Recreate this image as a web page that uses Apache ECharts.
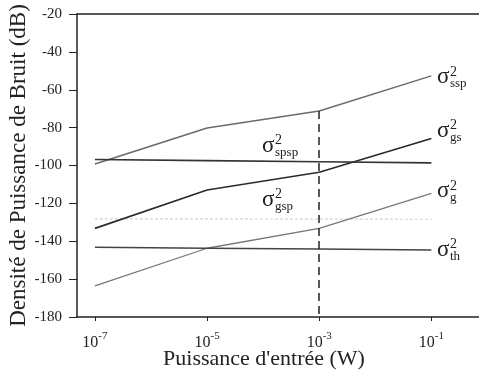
<!DOCTYPE html>
<html>
<head>
<meta charset="utf-8">
<script src="https://cdn.jsdelivr.net/npm/echarts@6/dist/echarts.min.js"></script>
<style>
html,body{margin:0;padding:0;background:#fff;}
#c{width:479px;height:373px;}
</style>
</head>
<body>
<div id="c"></div>
<script>
// exponents of input power (W): 10^x
const xExp = [-7, -5, -3, -1];
const tickExp = [-7, -5, -3, -1];
const yTicks = [-180, -160, -140, -120, -100, -80, -60, -40, -20];
// noise power densities (dB)
const ssp  = [-99.2, -80.2, -71.2, -52.7];
const gs   = [-133.2, -112.9, -103.6, -85.7];
const g    = [-163.6, -143.7, -133.2, -114.7];
const spsp = [-96.8, -97.4, -98.0, -98.6];
const th   = [-143.2, -143.7, -144.1, -144.6];
const faint = [-128.2, -128.2, -128.3, -128.4];
// label subscripts and anchor points (data coordinates: [exponent, dB])
const labelNames = ['ssp', 'gs', 'g', 'th', 'spsp', 'gsp'];
const labelX = [-0.90, -0.90, -0.90, -0.90, -4.02, -4.02];
const labelY = [-51.7, -80.2, -111.9, -143.0, -88.1, -116.6];

const serif = 'Liberation Serif';
const ink = '#222';

function pairs(vals){ return xExp.map((x,i)=>[x, vals[i]]); }

function lineSeries(name, vals, color, width){
  return {
    name, type: 'line', data: pairs(vals), symbol: 'none',
    lineStyle: {color, width}, itemStyle: {color},
    silent: true, animation: false, z: 3
  };
}

// each label: sigma, superscript 2, subscript, all anchored at the same data point
const labelItems = [];
labelNames.forEach((n, i) => {
  const coord = [labelX[i], labelY[i]];
  labelItems.push({coord, label: {formatter: 'σ', fontSize: 23, offset: [0, 2.7]}});
  labelItems.push({coord, label: {formatter: '2', fontSize: 14, offset: [13, -2.2]}});
  labelItems.push({coord, label: {formatter: n, fontSize: 13, offset: [13, 9.6]}});
});

const chart = echarts.init(document.getElementById('c'), null, {renderer: 'canvas'});
chart.setOption({
  animation: false,
  backgroundColor: '#fff',
  grid: {left: 77, right: 0, top: 14, bottom: 56, outerBoundsMode: 'none', containLabel: false},
  xAxis: [{
    type: 'value', min: -7.32, max: -0.15,
    axisLine: {show: true, lineStyle: {color: ink, width: 1.5}},
    axisTick: {show: true, length: 4, lineStyle: {color: ink}, customValues: tickExp},
    splitLine: {show: false},
    axisLabel: {
      customValues: tickExp, margin: 14, color: ink,
      formatter: (v) => '{m|10}{e|' + v + '}',
      rich: {
        m: {fontSize: 16, fontFamily: serif, lineHeight: 20, verticalAlign: 'bottom', color: ink},
        e: {fontSize: 11, fontFamily: serif, lineHeight: 10, verticalAlign: 'top', color: ink}
      }
    },
    name: "Puissance d'entrée (W)", nameLocation: 'middle', nameGap: 31, nameMoveOverlap: false,
    nameTextStyle: {fontFamily: serif, fontSize: 22, color: ink, padding: [0, 28, 0, 0]}
  },{
    type: 'value', position: 'top', min: -7.32, max: -0.15,
    axisLine: {show: true, lineStyle: {color: ink, width: 1.5}},
    axisTick: {show: false}, axisLabel: {show: false}, splitLine: {show: false}
  }],
  yAxis: {
    type: 'value', min: -180, max: -20, interval: 20,
    axisLine: {show: true, lineStyle: {color: ink, width: 1.5}},
    axisTick: {show: true, length: 8, lineStyle: {color: ink}},
    splitLine: {show: false},
    axisLabel: {margin: 15, fontFamily: serif, fontSize: 15, color: ink},
    name: 'Densité de Puissance de Bruit (dB)', nameLocation: 'middle', nameRotate: 90,
    nameGap: 47, nameMoveOverlap: false,
    nameTextStyle: {fontFamily: serif, fontSize: 23, color: ink}
  },
  series: [
    {
      name: 'faint', type: 'line', data: pairs(faint), symbol: 'none',
      lineStyle: {color: '#d4d4d4', width: 1.2, type: [3,2]}, silent: true, z: 1
    },
    Object.assign(lineSeries('ssp', ssp, '#6a6a6a', 1.4), {
      markLine: {
        silent: true, symbol: 'none', label: {show: false},
        lineStyle: {color: ink, width: 1.5, type: [8,5]},
        data: [[{coord: [xExp[2], ssp[2]]}, {coord: [xExp[2], yTicks[0]]}]]
      }
    }),
    lineSeries('gs', gs, '#2a2a2a', 1.6),
    lineSeries('g', g, '#777', 1.3),
    lineSeries('spsp', spsp, '#333', 1.6),
    Object.assign(lineSeries('th', th, '#444', 1.4), {
      markPoint: {
        symbol: 'circle', symbolSize: 0, silent: true,
        label: {show: true, position: 'inside', align: 'left', verticalAlign: 'middle',
                fontFamily: serif, color: ink},
        data: labelItems
      }
    })
  ]
});
</script>
</body>
</html>
